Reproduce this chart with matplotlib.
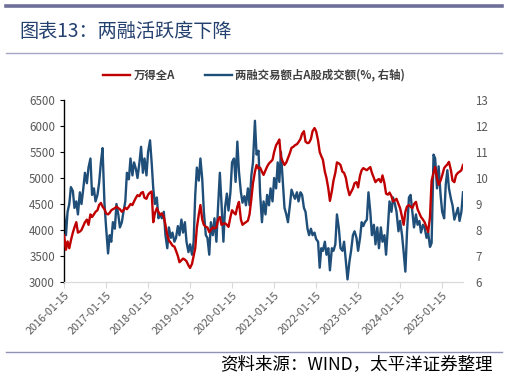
import numpy as np
import pandas as pd
import matplotlib
matplotlib.use('Agg')
import matplotlib.pyplot as plt
import matplotlib.dates as mdates
from matplotlib.lines import Line2D

plt.rcParams['font.family'] = ['Noto Sans CJK SC', 'DejaVu Sans']

# data (semi-monthly) --------------------------------------------------------
dates = pd.date_range('2016-01-15', periods=229, freq='SMS')

wind_a = [
    3900, 3620, 3780, 3650, 3800, 3950, 4050, 4150, 3950, 3970,
    4000, 4080, 4150, 4200, 4100, 4300, 4250, 4300, 4350, 4380,
    4480, 4520, 4450, 4400, 4320, 4300, 4330, 4380, 4400, 4420,
    4450, 4420, 4400, 4350, 4380, 4430, 4400, 4450, 4500, 4480,
    4550, 4620, 4670, 4650, 4710, 4730, 4620, 4600, 4680, 4720,
    4740, 4150, 4320, 4420, 4350, 4290, 4320, 4250, 4100, 3900,
    3800, 3750, 3700, 3680, 3600, 3500, 3380, 3420, 3450, 3430,
    3400, 3320, 3270, 3350, 3500, 3650, 4040, 4300, 4480, 4200,
    4100, 4060, 4050, 3960, 4000, 4050, 4030, 4050, 4200, 4250,
    4100, 4120, 4130, 4100, 4060, 4250, 4380, 4330, 4300, 4450,
    4540, 4200, 4100, 4130, 4150, 4180, 4300, 4600, 4900, 5120,
    5250, 5180, 5200, 5120, 5060, 5150, 5220, 5280, 5310, 5350,
    5500, 5630, 5680, 5740, 5400, 5310, 5250, 5300, 5380, 5480,
    5580, 5600, 5630, 5650, 5690, 5750, 5850, 5900, 5700, 5670,
    5680, 5750, 5900, 5960, 5900, 5720, 5500, 5420, 5350, 5120,
    5000, 4800, 4560, 4750, 4950, 5100, 5300, 5280, 5250, 5120,
    5100, 5000, 4820, 4670, 4730, 4800, 4900, 4920, 4820, 5050,
    5150, 5190, 5170, 5150, 5180, 5210, 5100, 5000, 4920, 4960,
    4980, 4920, 5050, 4900, 4700, 4680, 4720, 4650, 4550, 4570,
    4600, 4500, 4420, 4250, 4100, 4350, 4450, 4480, 4450, 4420,
    4500, 4540, 4400, 4320, 4250, 4200, 4150, 4050, 3960, 4250,
    4950, 5100, 5210, 5000, 4870, 4950, 5050, 5190, 5230, 5260,
    5310, 5150, 4950, 4920, 5050, 5100, 5120, 5150, 5250,
]

margin_ratio = [
    8.6, 7.8, 8.7, 9.0, 9.65, 9.5, 8.85, 9.1, 8.6, 9.45,
    9.0, 9.6, 10.2, 9.8, 10.4, 10.75, 9.35, 9.6, 9.1, 9.35,
    9.8, 10.6, 11.15, 9.0, 8.1, 7.1, 7.8, 7.55, 8.3, 8.05,
    9.0, 8.6, 8.1, 8.3, 8.7, 9.1, 10.2, 9.95, 10.75, 10.1,
    10.6, 10.35, 10.0, 10.6, 11.2, 10.2, 10.75, 10.1, 11.0, 11.45,
    10.6, 9.6, 9.0, 9.25, 8.45, 8.6, 8.45, 8.7, 7.8, 7.3,
    8.1, 7.7, 7.9, 7.55, 7.7, 8.15, 7.8, 8.4, 7.9, 8.3,
    7.55, 7.15, 7.45, 7.05, 7.55, 9.35, 10.4, 9.9, 10.75, 9.95,
    8.7, 7.8, 7.7, 7.05, 8.3, 7.8, 8.45, 7.55, 8.85, 10.2,
    9.05, 7.55, 8.85, 9.4, 8.75, 9.45, 10.6, 10.75, 9.85, 11.4,
    10.25, 9.45, 9.05, 9.3, 8.95, 9.6, 8.95, 10.1, 10.6, 12.2,
    10.9, 11.05, 9.4, 8.3, 9.1, 8.6, 9.35, 8.95, 9.6, 9.1,
    10.0, 9.6, 10.6, 9.85, 11.0, 9.85, 8.85, 8.6, 8.3, 8.95,
    9.55, 9.35, 9.2, 9.45, 9.1, 9.45, 9.35, 8.85, 8.7, 8.05,
    7.8, 8.05, 7.8, 7.9, 7.65, 7.55, 6.55, 7.3, 7.2, 7.55,
    7.05, 7.3, 6.45, 7.3, 7.2, 7.45, 8.6, 8.05, 7.3, 7.2,
    7.55, 6.8, 6.1, 6.8, 7.2, 7.8, 7.95, 7.7, 7.2, 7.7,
    8.3, 8.15, 8.3, 8.4, 9.45, 8.7, 7.8, 8.2, 7.45, 8.1,
    7.3, 8.1, 7.55, 7.8, 7.05, 8.1, 9.1, 8.7, 9.25, 9.0,
    8.7, 7.95, 8.35, 7.8, 7.15, 6.4, 7.9, 9.25, 9.35, 8.7,
    8.1, 8.6, 8.2, 8.35, 7.9, 8.2, 8.1, 7.7, 7.9, 7.35,
    7.5, 10.9, 10.75, 9.6, 10.45, 9.35, 8.7, 8.45, 9.75, 10.3,
    9.6, 9.2, 8.95, 8.4, 8.6, 8.85, 8.35, 8.7, 9.45,
]

tick_dates = pd.to_datetime(['%d-01-15' % y for y in range(2016, 2026)])

red = '#C00000'
blue = '#1F4E79'
grey_txt = '#595959'

# figure ---------------------------------------------------------------------
fig = plt.figure(figsize=(5.07, 3.79), dpi=100)

# header / footer rules
fig.add_artist(Line2D([6/507, 502/507], [1-6/379, 1-6/379], color='#6E7099', lw=2.6))
fig.add_artist(Line2D([6/507, 502/507], [1-53/379, 1-53/379], color='#A3A6C4', lw=1.0))
fig.add_artist(Line2D([6/507, 502/507], [1-352/379, 1-352/379], color='#8F93B8', lw=1.0))

fig.text(19/507, 1-31/379, '图表13：两融活跃度下降', fontsize=13.8, color='#24406E',
         va='center', ha='left', fontweight='light')
fig.text(493/507, 1-365/379, '资料来源：WIND，太平洋证券整理', fontsize=12.6, color='black',
         va='center', ha='right', style='italic')

ax1 = fig.add_axes([64/507, 1-282/379, (463-64)/507, (282-100)/379])
ax2 = ax1.twinx()

ax1.plot(dates, wind_a, color=red, lw=1.7, zorder=3)
ax2.plot(dates, margin_ratio, color=blue, lw=1.7)
ax1.set_zorder(ax2.get_zorder() + 1)
ax1.patch.set_visible(False)

ax1.set_ylim(3000, 6500)
ax1.set_yticks(np.arange(3000, 6501, 500))
ax2.set_ylim(6, 13)
ax2.set_yticks(np.arange(6, 14, 1))
ax1.set_xlim(dates[0], dates[-1])

ax1.set_xticks(tick_dates)
ax1.xaxis.set_major_formatter(mdates.DateFormatter('%Y-%m-%d'))
for lab in ax1.get_xticklabels():
    lab.set_rotation(45)
    lab.set_ha('right')
    lab.set_rotation_mode('anchor')

for a in (ax1, ax2):
    for s in ('top', 'right', 'left'):
        a.spines[s].set_visible(False)
    a.spines['bottom'].set_color('#D9D9D9')

ax1.spines['left'].set_visible(True)
ax1.spines['left'].set_color('black')
ax1.spines['left'].set_linewidth(1.0)

ax1.tick_params(axis='y', labelsize=8.3, colors='black', labelcolor=grey_txt, length=3, width=0.8)
ax1.tick_params(axis='x', labelsize=7.8, labelcolor=grey_txt, color='#D9D9D9', length=4, pad=2)
ax2.tick_params(axis='y', labelsize=8.3, labelcolor=grey_txt, length=0, pad=9)

# legend
handles = [Line2D([], [], color=red, lw=1.7), Line2D([], [], color=blue, lw=1.7)]
fig.legend(handles, ['万得全A', '两融交易额占A股成交额(%, 右轴)'],
           loc='center', bbox_to_anchor=(254/507, 1-75/379), ncol=2, frameon=False,
           prop={'size': 8.2, 'weight': 'bold'}, handlelength=2.4, handletextpad=0.3,
           columnspacing=2.6, labelcolor='#404040')

fig.savefig('out.png', dpi=100)
